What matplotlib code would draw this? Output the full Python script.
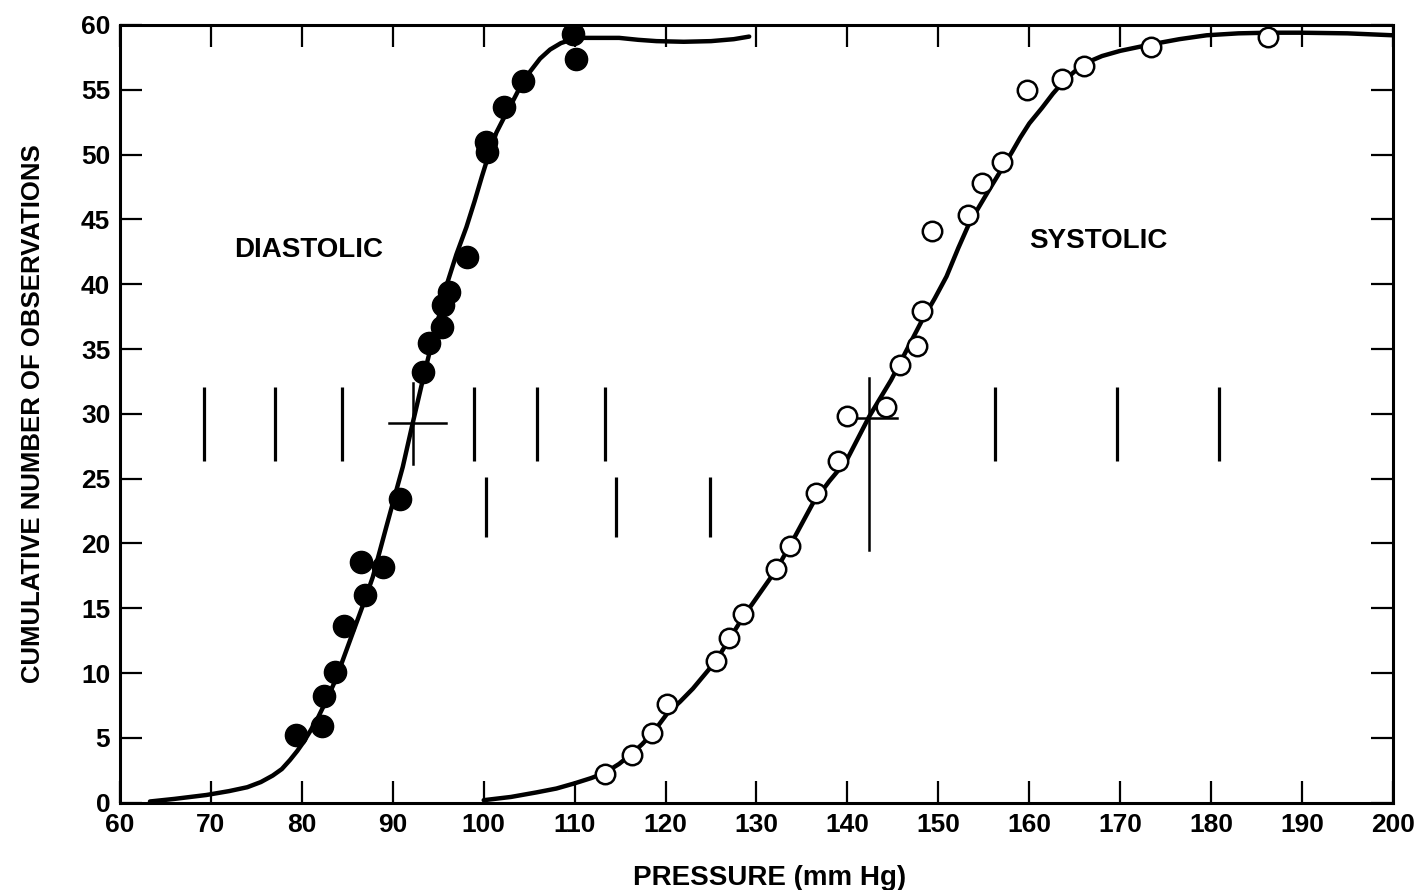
import numpy as np
import matplotlib
matplotlib.use("Agg")
import matplotlib.pyplot as plt

plt.rcParams['font.family'] = ['Liberation Sans', 'DejaVu Sans']
plt.rcParams['font.weight'] = 'bold'

# observed cumulative counts
dia_x = [79.4, 82.2, 82.4, 83.6, 84.6, 86.5, 86.9, 88.9, 90.8, 93.3, 94.0, 95.4,
         95.5, 96.2, 98.2, 100.3, 100.4, 102.2, 104.3, 109.8, 110.2]
dia_y = [5.2, 5.9, 8.25, 10.1, 13.6, 18.6, 16.0, 18.2, 23.4, 33.2, 35.5, 36.7,
         38.4, 39.4, 42.1, 51.0, 50.2, 53.7, 55.7, 59.3, 57.4]

sys_x = [113.3, 116.3, 118.5, 120.2, 125.5, 127.0, 128.5, 132.2, 133.7, 136.5,
         139.0, 140.0, 144.2, 145.8, 147.7, 148.2, 149.3, 153.3, 154.8, 157.0,
         159.8, 163.6, 166.0, 173.4, 186.3]
sys_y = [2.2, 3.7, 5.4, 7.6, 10.9, 12.7, 14.6, 18.0, 19.8, 23.9,
         26.4, 29.8, 30.5, 33.8, 35.2, 37.9, 44.1, 45.3, 47.8, 49.4,
         55.0, 55.8, 56.8, 58.3, 59.1]

# fitted curves
dia_cx = [63.3, 66.0, 69.5, 72.0, 74.0, 75.5, 76.8, 77.8, 78.7, 79.5, 80.2,
          80.9, 81.8, 82.7, 83.6, 84.4, 85.6, 86.7, 87.8, 89.3, 90.2, 91.1,
          92.2, 93.3, 94.0, 94.7, 95.4, 96.0, 97.0, 98.1, 99.0, 99.8, 100.6,
          101.4, 102.2, 102.9, 104.0, 105.1, 106.2, 107.3, 108.5, 109.8, 111.0,
          112.5, 114.9, 117.0, 119.0, 122.0, 125.0, 127.5, 129.2]
dia_cy = [0.1, 0.3, 0.6, 0.9, 1.2, 1.6, 2.1, 2.6, 3.3, 4.0, 4.7,
          5.5, 6.6, 7.9, 9.3, 10.8, 13.1, 15.2, 17.4, 21.3, 23.6, 25.9,
          29.3, 32.6, 34.6, 36.5, 38.4, 40.1, 42.3, 44.4, 46.4, 48.3, 50.1,
          51.7, 52.8, 53.7, 55.2, 56.4, 57.4, 58.1, 58.6, 58.9, 59.0,
          59.0, 59.0, 58.85, 58.75, 58.7, 58.75, 58.9, 59.1]

sys_cx = [100.0, 103.0, 105.8, 108.0, 110.0, 111.8, 113.3, 114.9, 116.3, 117.4,
          118.5, 120.2, 121.6, 123.0, 125.5, 128.5, 130.3, 132.2, 134.2, 136.2,
          138.0, 139.9, 142.4, 144.8, 146.5, 148.2, 149.6, 150.9, 152.2, 153.4,
          155.6, 156.9, 158.1, 159.0, 160.0, 161.4, 162.6, 163.6, 164.8, 166.0,
          168.0, 170.0, 173.4, 176.5, 179.5, 183.0, 186.3, 189.7, 195.0, 200.0]
sys_cy = [0.2, 0.45, 0.8, 1.1, 1.5, 1.9, 2.3, 3.0, 3.8, 4.5,
          5.3, 6.9, 7.8, 8.8, 10.9, 14.3, 16.1, 18.0, 20.5, 23.1,
          24.8, 26.4, 29.8, 32.6, 34.9, 37.2, 38.9, 40.6, 42.8, 44.7,
          47.3, 48.8, 50.2, 51.3, 52.4, 53.6, 54.7, 55.5, 56.3, 57.0,
          57.6, 58.0, 58.5, 58.9, 59.2, 59.35, 59.4, 59.4, 59.35, 59.2]

# short vertical markers
bars_upper_x = [69.2, 77.0, 84.4, 98.9, 105.9, 113.3, 156.2, 169.6, 180.9]
bars_lower_x = [100.2, 114.6, 124.9]

# means with crosses
dia_mean = (92.2, 29.3)
sys_mean = (142.4, 29.7)

fig = plt.figure(figsize=(14.28, 8.9), dpi=100)
ax = fig.add_axes([0.084, 0.098, 0.8915, 0.874])

ax.plot(dia_cx, dia_cy, color='black', lw=3.2, solid_joinstyle='round',
        solid_capstyle='round', zorder=2)
ax.plot(sys_cx, sys_cy, color='black', lw=3.2, solid_joinstyle='round',
        solid_capstyle='round', zorder=2)

ax.plot(dia_x, dia_y, 'o', color='black', ms=16, zorder=3)
ax.plot(sys_x, sys_y, 'o', mfc='white', mec='black', mew=1.8, ms=14, zorder=3)

ax.vlines(bars_upper_x, 26.4, 32.1, color='black', lw=2.3)
ax.vlines(bars_lower_x, 20.5, 25.1, color='black', lw=2.3)

# crosses
ax.plot([89.6, 95.9], [dia_mean[1]] * 2, color='black', lw=1.8)
ax.plot([dia_mean[0]] * 2, [26.1, 32.4], color='black', lw=1.8)
ax.plot([141.0, 145.4], [sys_mean[1]] * 2, color='black', lw=1.8)
ax.plot([sys_mean[0]] * 2, [19.5, 32.8], color='black', lw=1.8)

ax.text(80.7, 42.6, 'DIASTOLIC', fontsize=20, ha='center', va='center')
ax.text(167.6, 43.3, 'SYSTOLIC', fontsize=20, ha='center', va='center')

ax.set_xlim(60, 200)
ax.set_ylim(0, 60)
ax.set_xticks(np.arange(60, 201, 10))
ax.set_yticks(np.arange(0, 61, 5))
ax.tick_params(direction='in', length=16, width=1.6, labelsize=19,
               top=True, right=True)
ax.tick_params(axis='x', pad=7)
ax.tick_params(axis='y', pad=7)
for lab in ax.get_xticklabels() + ax.get_yticklabels():
    lab.set_fontweight('bold')
for s in ax.spines.values():
    s.set_linewidth(2.2)

ax.set_xlabel('PRESSURE (mm Hg)', fontsize=20, fontweight='bold')
ax.set_ylabel('CUMULATIVE NUMBER OF OBSERVATIONS', fontsize=18.5,
              fontweight='bold')
ax.xaxis.set_label_coords(0.51, -0.080)
ax.yaxis.set_label_coords(-0.059, 0.5)

fig.savefig('out.png', dpi=100)
